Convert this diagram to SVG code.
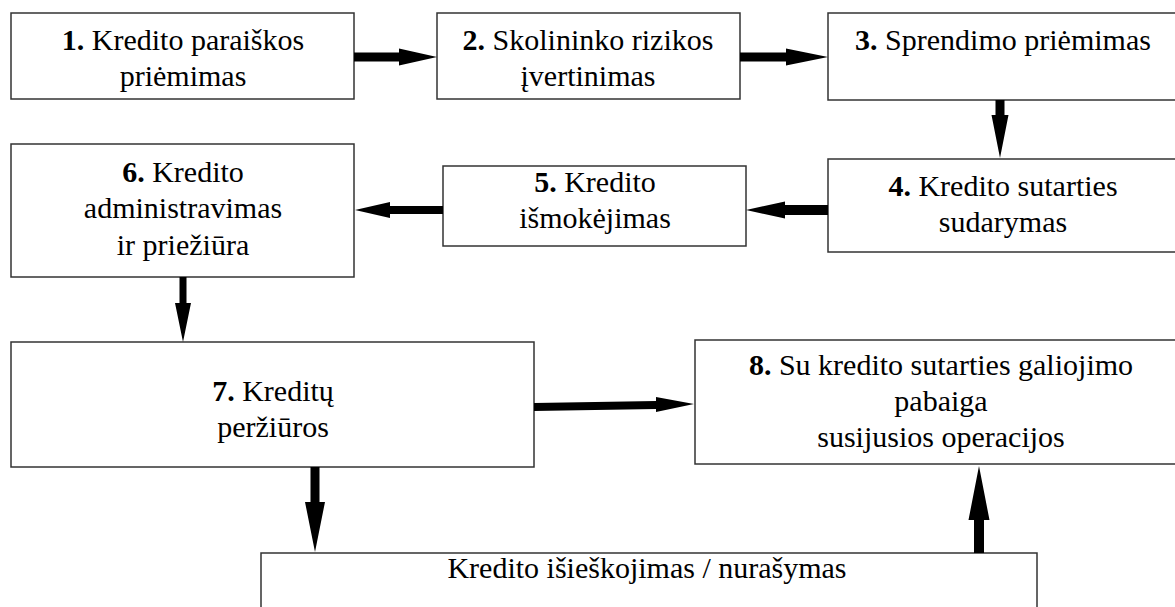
<svg xmlns="http://www.w3.org/2000/svg" width="1175" height="607" viewBox="0 0 1175 607">
<style>
.box{fill:#fff;stroke:#333;stroke-width:1.5}
.arrow{fill:#000;stroke:none}
</style>
<rect width="1175" height="607" fill="#fff"/>
<g font-family="Liberation Serif" font-size="30" text-anchor="middle" fill="#000">
<g id="node1">
<rect class="box" x="11" y="13" width="343" height="86"/>
<text x="183" y="50"><tspan font-weight="bold">1.</tspan> Kredito paraiškos</text>
<text x="183" y="86">priėmimas</text>
</g>
<g id="node2">
<rect class="box" x="437" y="13" width="303" height="86"/>
<text x="588" y="50"><tspan font-weight="bold">2.</tspan> Skolininko rizikos</text>
<text x="588" y="86">įvertinimas</text>
</g>
<g id="node3">
<rect class="box" x="828" y="13" width="352" height="87"/>
<text x="1003" y="50"><tspan font-weight="bold">3.</tspan> Sprendimo priėmimas</text>
</g>
<g id="node4">
<rect class="box" x="828" y="159" width="352" height="93"/>
<text x="1003" y="196"><tspan font-weight="bold">4.</tspan> Kredito sutarties</text>
<text x="1003" y="232">sudarymas</text>
</g>
<g id="node5">
<rect class="box" x="443" y="166" width="303" height="80"/>
<text x="595" y="192"><tspan font-weight="bold">5.</tspan> Kredito</text>
<text x="595" y="228">išmokėjimas</text>
</g>
<g id="node6">
<rect class="box" x="11" y="144" width="343" height="133"/>
<text x="183" y="182"><tspan font-weight="bold">6.</tspan> Kredito</text>
<text x="183" y="218">administravimas</text>
<text x="183" y="255">ir priežiūra</text>
</g>
<g id="node7">
<rect class="box" x="11" y="342" width="523" height="125"/>
<text x="273" y="401"><tspan font-weight="bold">7.</tspan> Kreditų</text>
<text x="273" y="437">peržiūros</text>
</g>
<g id="node8">
<rect class="box" x="695" y="340" width="492" height="124"/>
<text x="941" y="375"><tspan font-weight="bold">8.</tspan> Su kredito sutarties galiojimo</text>
<text x="941" y="411">pabaiga</text>
<text x="941" y="447">susijusios operacijos</text>
</g>
<g id="node9">
<rect class="box" x="261" y="553" width="776" height="70"/>
<text x="647" y="578">Kredito išieškojimas / nurašymas</text>
</g>
</g>
<g id="connectors">
<path class="arrow" d="M354,52.5 H399 V48.5 L437,57 L399,65.5 V61.5 H354 Z"/>
<path class="arrow" d="M740,52.5 H786 V48.5 L828,57 L786,65.5 V61.5 H740 Z"/>
<path class="arrow" d="M995.5,100 V115 H991.5 L1000,158 L1008.5,115 H1004.5 V100 Z"/>
<path class="arrow" d="M828,205 H785 V201.5 L746,210 L785,218.5 V215 H828 Z"/>
<path class="arrow" d="M443,206 H390 V202 L355,210 L390,218 V214 H443 Z"/>
<path class="arrow" d="M179.5,277 V303 H175 L183,342 L191,303 H186.5 V277 Z"/>
<path class="arrow" d="M534,403 L656,401 V397 L694,404 L656,412 V409 L534,411 Z"/>
<path class="arrow" d="M310.5,467 V502 H305 L315,552 L325,502 H319.5 V467 Z"/>
<path class="arrow" d="M974,553 V520 H968.5 L979,466 L989.5,520 H984 V553 Z"/>
</g>
</svg>
